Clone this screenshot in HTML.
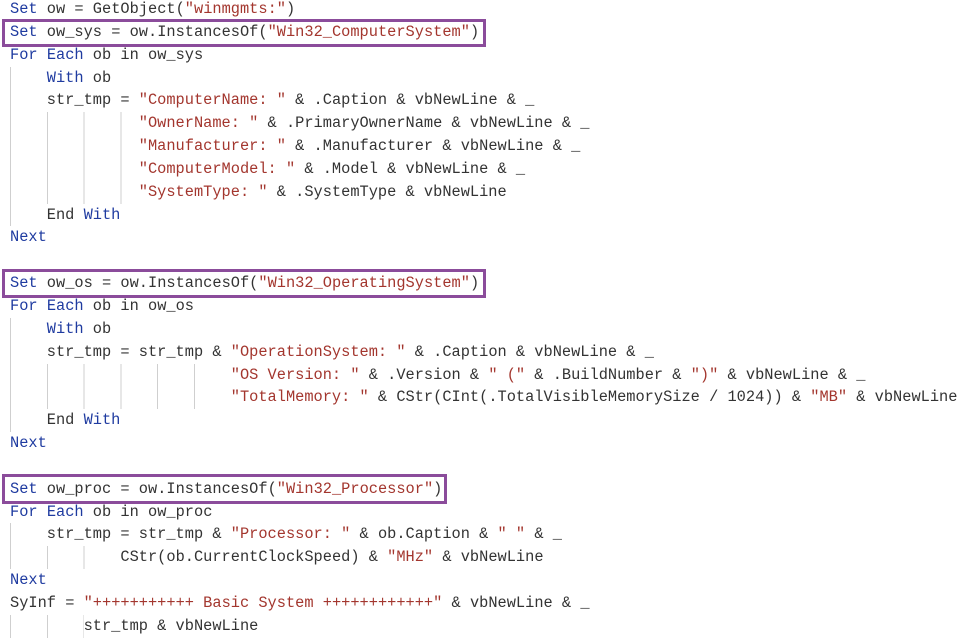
<!DOCTYPE html>
<html><head><meta charset="utf-8"><style>
html,body{margin:0;padding:0;background:#fff;width:968px;height:638px;overflow:hidden;position:relative}
pre{position:absolute;left:10px;top:-2px;margin:0;font-family:"Liberation Mono",monospace;font-size:15.33px;line-height:22.85px;color:#333}
.k{color:#1f3ba0}.s{color:#a3362e}
.w{display:inline-block;height:22.85px;vertical-align:top;background-image:repeating-linear-gradient(to right,#cfcfcf 0,#cfcfcf 1px,transparent 1px,transparent 36.8px)}
.box{position:absolute;border:3px solid #8b4c9b;box-sizing:border-box}
</style></head><body>
<div class="box" style="left:2px;top:19px;width:484px;height:28px"></div>
<div class="box" style="left:2px;top:269px;width:484px;height:29px"></div>
<div class="box" style="left:2px;top:474px;width:445px;height:30px"></div>
<pre><span class="k">Set</span> ow = GetObject(<span class="s">"winmgmts:"</span>)
<span class="k">Set</span> ow_sys = ow.InstancesOf(<span class="s">"Win32_ComputerSystem"</span>)
<span class="k">For</span> <span class="k">Each</span> ob in ow_sys
<span class="w" style="width:4ch"></span><span class="k">With</span> ob
<span class="w" style="width:4ch"></span>str_tmp = <span class="s">"ComputerName: "</span> &amp; .Caption &amp; vbNewLine &amp; _
<span class="w" style="width:14ch"></span><span class="s">"OwnerName: "</span> &amp; .PrimaryOwnerName &amp; vbNewLine &amp; _
<span class="w" style="width:14ch"></span><span class="s">"Manufacturer: "</span> &amp; .Manufacturer &amp; vbNewLine &amp; _
<span class="w" style="width:14ch"></span><span class="s">"ComputerModel: "</span> &amp; .Model &amp; vbNewLine &amp; _
<span class="w" style="width:14ch"></span><span class="s">"SystemType: "</span> &amp; .SystemType &amp; vbNewLine
<span class="w" style="width:4ch"></span>End <span class="k">With</span>
<span class="k">Next</span>

<span class="k">Set</span> ow_os = ow.InstancesOf(<span class="s">"Win32_OperatingSystem"</span>)
<span class="k">For</span> <span class="k">Each</span> ob in ow_os
<span class="w" style="width:4ch"></span><span class="k">With</span> ob
<span class="w" style="width:4ch"></span>str_tmp = str_tmp &amp; <span class="s">"OperationSystem: "</span> &amp; .Caption &amp; vbNewLine &amp; _
<span class="w" style="width:24ch"></span><span class="s">"OS Version: "</span> &amp; .Version &amp; <span class="s">" ("</span> &amp; .BuildNumber &amp; <span class="s">")"</span> &amp; vbNewLine &amp; _
<span class="w" style="width:24ch"></span><span class="s">"TotalMemory: "</span> &amp; CStr(CInt(.TotalVisibleMemorySize / 1024)) &amp; <span class="s">"MB"</span> &amp; vbNewLine
<span class="w" style="width:4ch"></span>End <span class="k">With</span>
<span class="k">Next</span>

<span class="k">Set</span> ow_proc = ow.InstancesOf(<span class="s">"Win32_Processor"</span>)
<span class="k">For</span> <span class="k">Each</span> ob in ow_proc
<span class="w" style="width:4ch"></span>str_tmp = str_tmp &amp; <span class="s">"Processor: "</span> &amp; ob.Caption &amp; <span class="s">" "</span> &amp; _
<span class="w" style="width:12ch"></span>CStr(ob.CurrentClockSpeed) &amp; <span class="s">"MHz"</span> &amp; vbNewLine
<span class="k">Next</span>
SyInf = <span class="s">"+++++++++++ Basic System ++++++++++++"</span> &amp; vbNewLine &amp; _
<span class="w" style="width:8ch"></span>str_tmp &amp; vbNewLine</pre>
</body></html>
